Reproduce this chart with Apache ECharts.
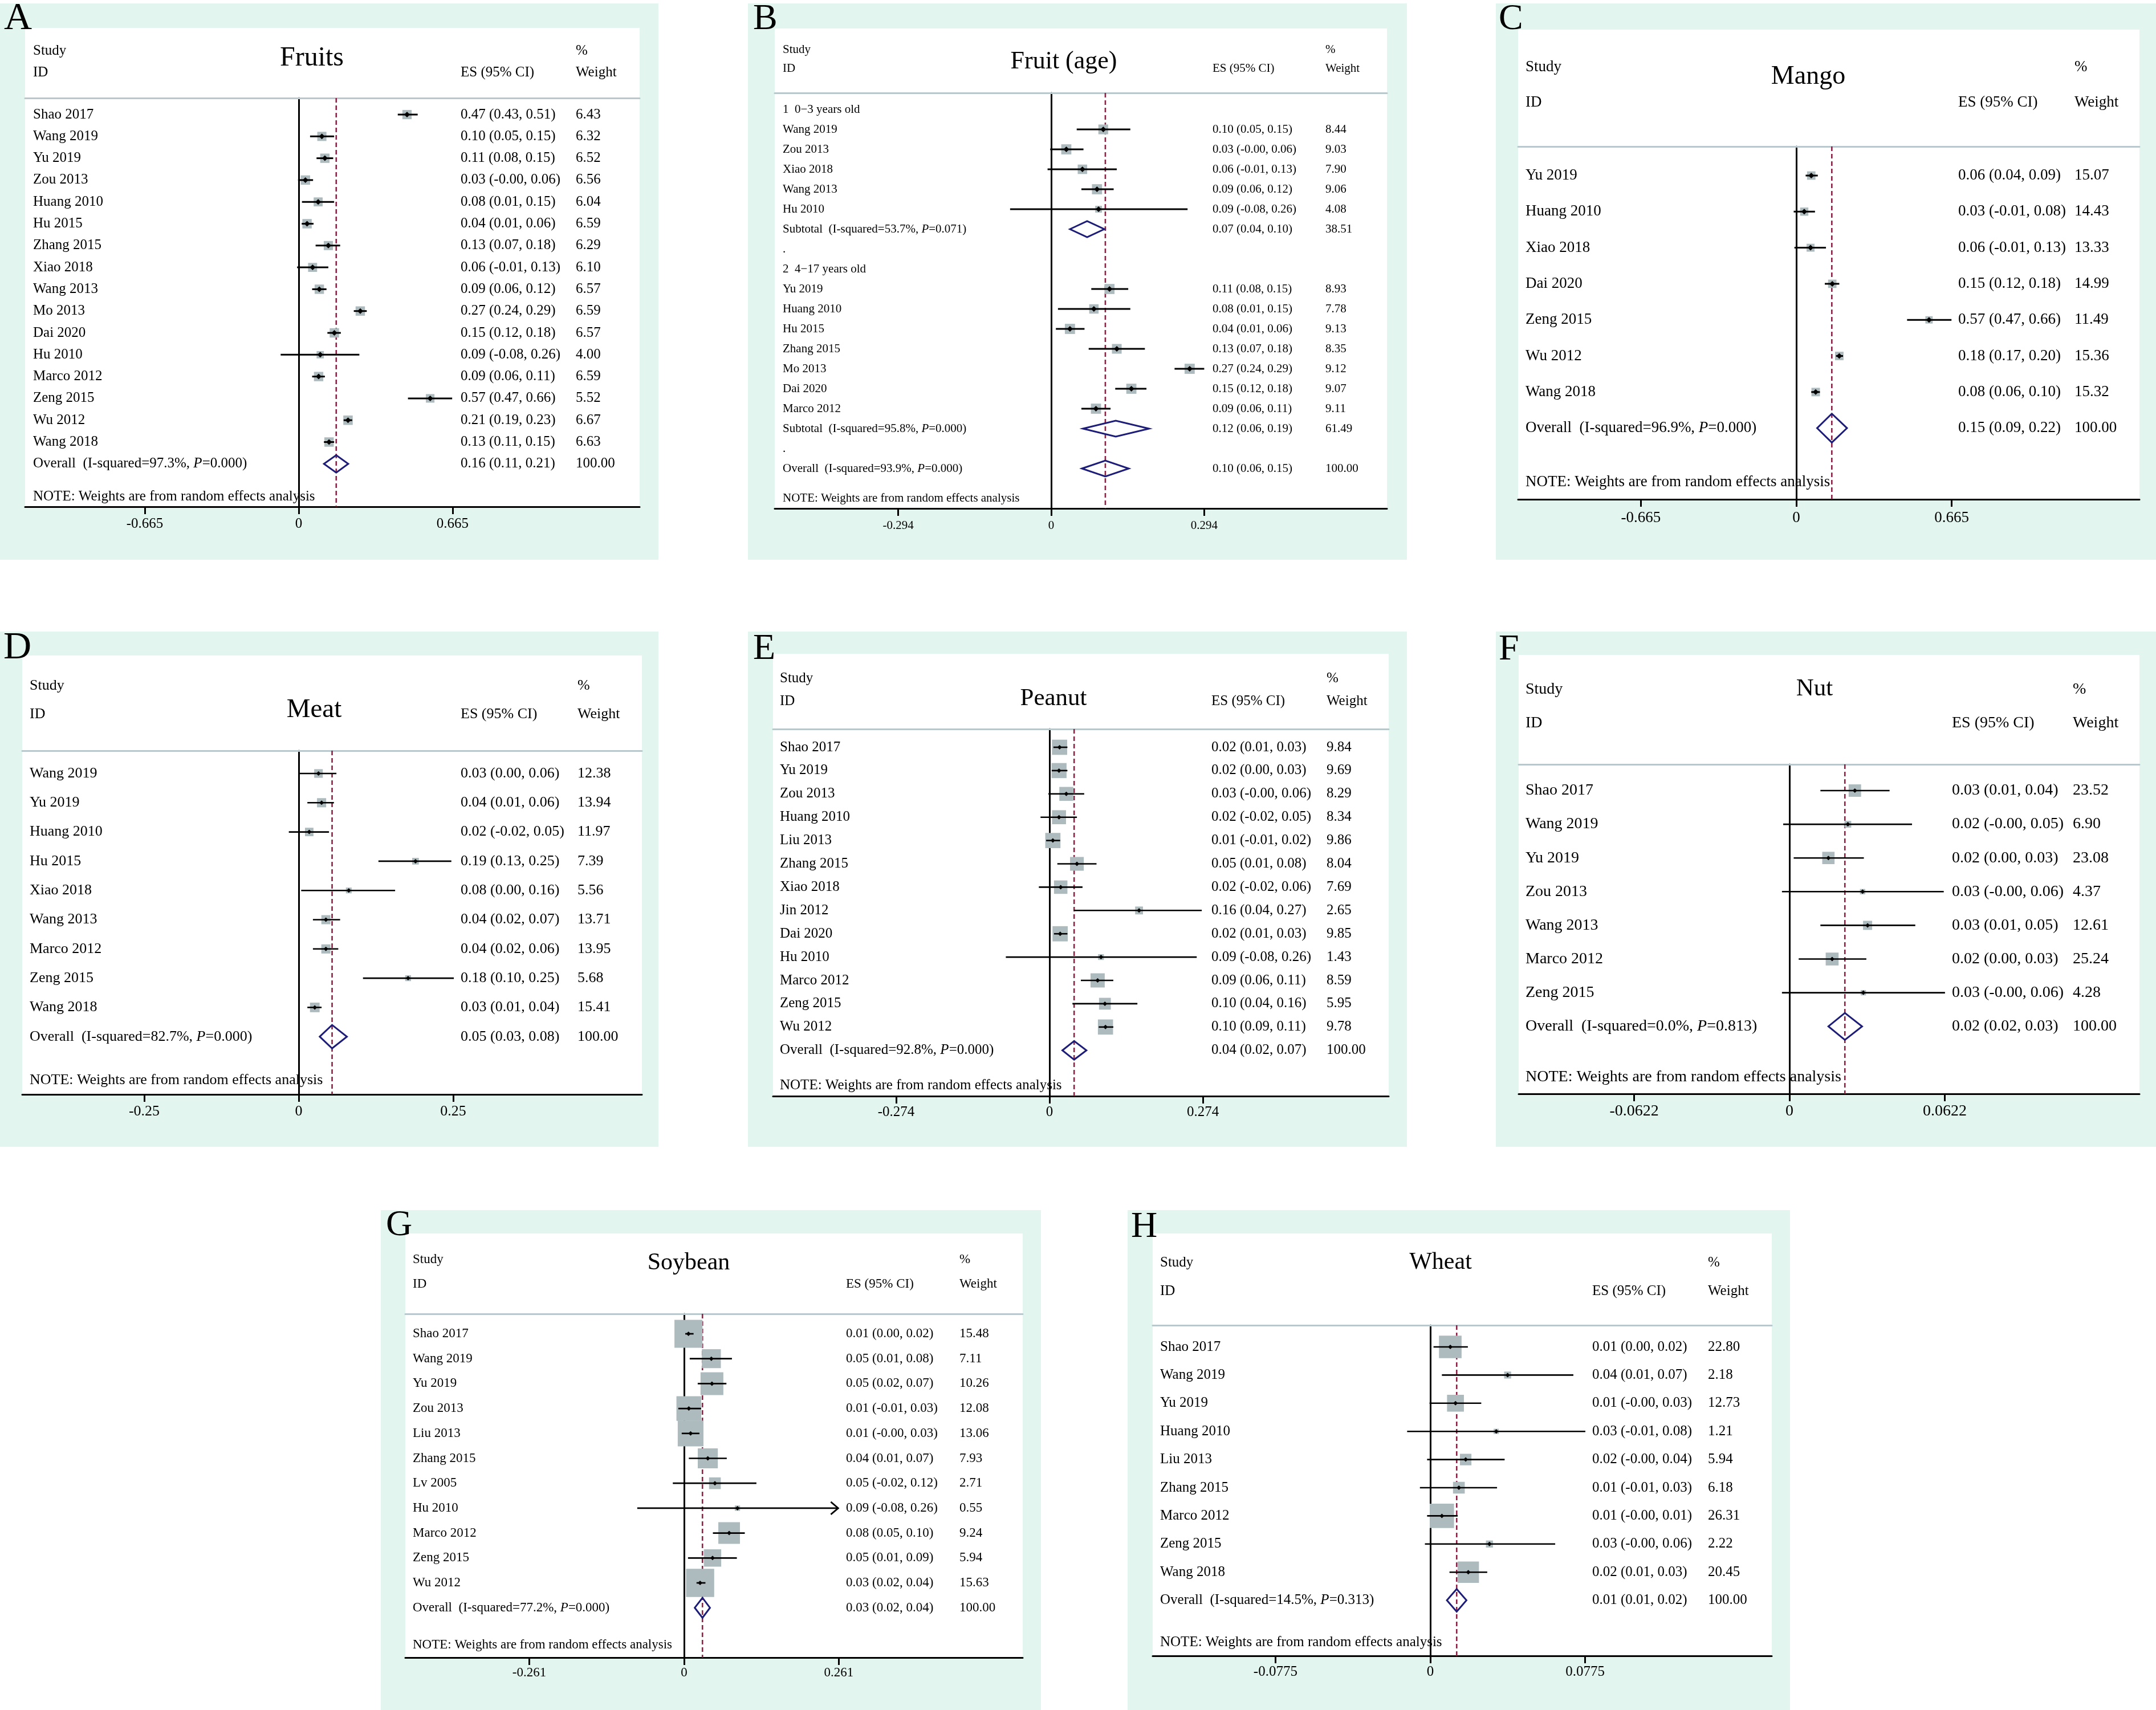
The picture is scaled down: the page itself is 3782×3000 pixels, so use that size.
<!DOCTYPE html>
<html>
<head>
<meta charset="utf-8">
<title>Forest plots</title>
<script src="https://cdn.jsdelivr.net/npm/echarts@6.0.0/dist/echarts.min.js"></script>
<style>
  html, body { margin: 0; padding: 0; background: #fff; }
  #main { width: 3782px; height: 3000px; }
</style>
</head>
<body>
<div id="main"></div>
<script>
// ---- data: A Fruits ----
const fruitStudies = ['Shao 2017', 'Wang 2019', 'Yu 2019', 'Zou 2013', 'Huang 2010', 'Hu 2015', 'Zhang 2015', 'Xiao 2018', 'Wang 2013', 'Mo 2013', 'Dai 2020', 'Hu 2010', 'Marco 2012', 'Zeng 2015', 'Wu 2012', 'Wang 2018'];
const fruitES = [0.468, 0.100, 0.113, 0.029, 0.084, 0.036, 0.128, 0.060, 0.089, 0.266, 0.154, 0.093, 0.086, 0.568, 0.213, 0.131];
const fruitLo = [0.428, 0.049, 0.077, -0.003, 0.014, 0.013, 0.073, -0.007, 0.058, 0.238, 0.124, -0.078, 0.058, 0.472, 0.194, 0.109];
const fruitHi = [0.514, 0.153, 0.149, 0.062, 0.153, 0.064, 0.179, 0.128, 0.120, 0.294, 0.182, 0.262, 0.113, 0.663, 0.231, 0.153];
const fruitWeight = [6.43, 6.32, 6.52, 6.56, 6.04, 6.59, 6.29, 6.10, 6.57, 6.59, 6.57, 4.00, 6.59, 5.52, 6.67, 6.63];
const fruitOverall = [0.162, 0.109, 0.214];
const fruitHet = ['97.3%', '0.000'];

// ---- data: B Fruit (age), two subgroups ----
const ageGroups = ['1  0\u22123 years old', '2  4\u221217 years old'];
const ageStudies = [['Wang 2019', 'Zou 2013', 'Xiao 2018', 'Wang 2013', 'Hu 2010'], ['Yu 2019', 'Huang 2010', 'Hu 2015', 'Zhang 2015', 'Mo 2013', 'Dai 2020', 'Marco 2012']];
const ageES = [[0.100, 0.029, 0.060, 0.088, 0.091], [0.112, 0.082, 0.036, 0.126, 0.266, 0.154, 0.086]];
const ageLo = [[0.049, -0.002, -0.007, 0.058, -0.079], [0.077, 0.013, 0.009, 0.072, 0.237, 0.123, 0.058]];
const ageHi = [[0.152, 0.062, 0.126, 0.120, 0.262], [0.148, 0.152, 0.064, 0.180, 0.294, 0.183, 0.114]];
const ageWeight = [[8.44, 9.03, 7.90, 9.06, 4.08], [8.93, 7.78, 9.13, 8.35, 9.12, 9.07, 9.11]];
const ageSubtotal = [[0.069, 0.036, 0.102], [0.124, 0.061, 0.188]];
const ageSubWeight = [38.51, 61.49];
const ageSubHet = [['53.7%', '0.071'], ['95.8%', '0.000']];
const ageOverall = [0.104, 0.059, 0.149];
const ageHet = ['93.9%', '0.000'];

// ---- data: C Mango ----
const mangoStudies = ['Yu 2019', 'Huang 2010', 'Xiao 2018', 'Dai 2020', 'Zeng 2015', 'Wu 2012', 'Wang 2018'];
const mangoES = [0.064, 0.034, 0.061, 0.154, 0.568, 0.184, 0.083];
const mangoLo = [0.040, -0.011, -0.008, 0.122, 0.474, 0.170, 0.064];
const mangoHi = [0.092, 0.080, 0.127, 0.184, 0.664, 0.200, 0.101];
const mangoWeight = [15.07, 14.43, 13.33, 14.99, 11.49, 15.36, 15.32];
const mangoOverall = [0.152, 0.089, 0.217];
const mangoHet = ['96.9%', '0.000'];

// ---- data: D Meat ----
const meatStudies = ['Wang 2019', 'Yu 2019', 'Huang 2010', 'Hu 2015', 'Xiao 2018', 'Wang 2013', 'Marco 2012', 'Zeng 2015', 'Wang 2018'];
const meatES = [0.032, 0.037, 0.017, 0.189, 0.081, 0.044, 0.044, 0.177, 0.026];
const meatLo = [0.001, 0.014, -0.016, 0.129, 0.004, 0.023, 0.023, 0.104, 0.014];
const meatHi = [0.061, 0.057, 0.049, 0.247, 0.156, 0.067, 0.064, 0.251, 0.037];
const meatWeight = [12.38, 13.94, 11.97, 7.39, 5.56, 13.71, 13.95, 5.68, 15.41];
const meatOverall = [0.054, 0.034, 0.078];
const meatHet = ['82.7%', '0.000'];

// ---- data: E Peanut ----
const peanutStudies = ['Shao 2017', 'Yu 2019', 'Zou 2013', 'Huang 2010', 'Liu 2013', 'Zhang 2015', 'Xiao 2018', 'Jin 2012', 'Dai 2020', 'Hu 2010', 'Marco 2012', 'Zeng 2015', 'Wu 2012'];
const peanutES = [0.018, 0.017, 0.030, 0.017, 0.006, 0.049, 0.020, 0.160, 0.019, 0.092, 0.086, 0.099, 0.100];
const peanutLo = [0.007, 0.004, -0.002, -0.016, -0.006, 0.014, -0.019, 0.044, 0.008, -0.078, 0.056, 0.041, 0.088];
const peanutHi = [0.032, 0.032, 0.062, 0.049, 0.019, 0.084, 0.059, 0.272, 0.032, 0.263, 0.114, 0.157, 0.114];
const peanutWeight = [9.84, 9.69, 8.29, 8.34, 9.86, 8.04, 7.69, 2.65, 9.85, 1.43, 8.59, 5.95, 9.78];
const peanutOverall = [0.044, 0.023, 0.066];
const peanutHet = ['92.8%', '0.000'];

// ---- data: F Nut ----
const nutStudies = ['Shao 2017', 'Wang 2019', 'Yu 2019', 'Zou 2013', 'Wang 2013', 'Marco 2012', 'Zeng 2015'];
const nutES = [0.0262, 0.0234, 0.0156, 0.0293, 0.0313, 0.0171, 0.0296];
const nutLo = [0.0124, -0.0025, 0.0017, -0.0030, 0.0124, 0.0037, -0.0030];
const nutHi = [0.0401, 0.0491, 0.0298, 0.0618, 0.0504, 0.0308, 0.0623];
const nutWeight = [23.52, 6.90, 23.08, 4.37, 12.61, 25.24, 4.28];
const nutOverall = [0.0222, 0.0156, 0.0291];
const nutHet = ['0.0%', '0.813'];

// ---- data: G Soybean ----
const soyStudies = ['Shao 2017', 'Wang 2019', 'Yu 2019', 'Zou 2013', 'Liu 2013', 'Zhang 2015', 'Lv 2005', 'Hu 2010', 'Marco 2012', 'Zeng 2015', 'Wu 2012'];
const soyES = [0.0074, 0.046, 0.047, 0.008, 0.011, 0.040, 0.052, 0.090, 0.076, 0.048, 0.027];
const soyLo = [0.002, 0.0095, 0.023, -0.0097, -0.004, 0.008, -0.019, -0.079, 0.0486, 0.0066, 0.021];
const soyHi = [0.016, 0.0807, 0.0714, 0.0287, 0.0259, 0.072, 0.122, 0.260, 0.1024, 0.089, 0.036];
const soyWeight = [15.48, 7.11, 10.26, 12.08, 13.06, 7.93, 2.71, 0.55, 9.24, 5.94, 15.63];
const soyOverall = [0.031, 0.018, 0.0437];
const soyHet = ['77.2%', '0.000'];
const soyClipped = ['Hu 2010']; // CI runs past the axis, drawn with an arrow

// ---- data: H Wheat ----
const wheatStudies = ['Shao 2017', 'Wang 2019', 'Yu 2019', 'Huang 2010', 'Liu 2013', 'Zhang 2015', 'Marco 2012', 'Zeng 2015', 'Wang 2018'];
const wheatES = [0.0100, 0.0387, 0.0126, 0.0330, 0.0177, 0.0143, 0.0058, 0.0296, 0.0190];
const wheatLo = [0.0016, 0.0058, -0.0004, -0.0116, -0.0016, -0.0052, -0.0016, -0.0027, 0.0096];
const wheatHi = [0.0188, 0.0716, 0.0255, 0.0776, 0.0372, 0.0334, 0.0137, 0.0625, 0.0285];
const wheatWeight = [22.80, 2.18, 12.73, 1.21, 5.94, 6.18, 26.31, 2.22, 20.45];
const wheatOverall = [0.0132, 0.0083, 0.0181];
const wheatHet = ['14.5%', '0.313'];

const NOTE = 'NOTE: Weights are from random effects analysis';
const SERIF = '"Liberation Serif", "Times New Roman", serif';
const GREEN = '#e3f5ef';
const BOX = '#adbbbf';
const HEAD_LINE = '#b8c8cc';
const NAVY = '#1d1d78';
const RED = '#8b2346';

// row kinds: 0 study, 1 subtotal, 2 overall, 3 note, 4 plain label
const study = (row, label, es, lo, hi, w, clipped) => ({ row, label, es, lo, hi, w, kind: 0, clipped: clipped ? 1 : 0 });
const pooled = (row, label, v, w, het, kind) => ({ row, label, es: v[0], lo: v[1], hi: v[2], w, het, kind });

function simpleRows(studies, es, lo, hi, weight, overall, het, clipped) {
  const rows = studies.map((s, i) => study(i, s, es[i], lo[i], hi[i], weight[i], (clipped || []).includes(s)));
  const n = studies.length;
  rows.push(pooled(n, 'Overall', overall, 100, het, 2));
  rows.push({ row: n + 1.5, label: NOTE, kind: 3 });
  return rows;
}

function ageRows() {
  const rows = [];
  let r = 0;
  ageGroups.forEach((g, k) => {
    rows.push({ row: r++, label: g, kind: 4 });
    ageStudies[k].forEach((s, i) => rows.push(study(r++, s, ageES[k][i], ageLo[k][i], ageHi[k][i], ageWeight[k][i])));
    rows.push(pooled(r++, 'Subtotal', ageSubtotal[k], ageSubWeight[k], ageSubHet[k], 1));
    rows.push({ row: r++, label: '.', kind: 4 });
  });
  rows.push(pooled(r, 'Overall', ageOverall, 100, ageHet, 2));
  rows.push({ row: r + 1.5, label: NOTE, kind: 3 });
  return rows;
}

// panel layout (pixel positions of the frames, header texts and scales)
const panels = [
  { letter: 'A', title: 'Fruits', rows: simpleRows(fruitStudies, fruitES, fruitLo, fruitHi, fruitWeight, fruitOverall, fruitHet),
    green: [0, 6, 1155, 982], white: [44, 49, 1122, 889], header: 172, row0: 201, step: 38.3,
    zeroX: 524, ppu: 406, tick: 0.665, font: 25, labelOff: 30, letterPos: [7, 33, 68], titlePos: [547, 102, 48],
    studyX: 58, esX: 808, wX: 1010, headY: [89, 127], boxK: 6.4, lineW: 3, dot: 5 },
  { letter: 'B', title: 'Fruit (age)', rows: ageRows(),
    green: [1312, 6, 2468, 982], white: [1359, 50, 2433, 892], header: 163, row0: 192, step: 35.0,
    zeroX: 1844, ppu: 913, tick: 0.294, font: 21, labelOff: 30, letterPos: [1321, 34, 64], titlePos: [1866, 108, 44],
    studyX: 1373, esX: 2127, wX: 2325, headY: [87, 120], boxK: 5.9, lineW: 3, dot: 5 },
  { letter: 'C', title: 'Mango', rows: simpleRows(mangoStudies, mangoES, mangoLo, mangoHi, mangoWeight, mangoOverall, mangoHet),
    green: [2624, 6, 3782, 982], white: [2663, 52, 3753, 876], header: 257, row0: 308, step: 63.3,
    zeroX: 3151, ppu: 410, tick: 0.665, font: 27, labelOff: 33, letterPos: [2629, 34, 64], titlePos: [3172, 135, 46],
    studyX: 2676, esX: 3435, wX: 3639, headY: [118, 180], boxK: 3.8, lineW: 3, dot: 5 },
  { letter: 'D', title: 'Meat', rows: simpleRows(meatStudies, meatES, meatLo, meatHi, meatWeight, meatOverall, meatHet),
    green: [0, 1108, 1155, 2012], white: [39, 1150, 1126, 1920], header: 1317, row0: 1357, step: 51.3,
    zeroX: 524, ppu: 1084, tick: 0.25, font: 26, labelOff: 30, letterPos: [6, 1137, 68], titlePos: [551, 1246, 47],
    studyX: 52, esX: 808, wX: 1013, headY: [1203, 1253], boxK: 4.3, lineW: 2.6, dot: 4 },
  { letter: 'E', title: 'Peanut', rows: simpleRows(peanutStudies, peanutES, peanutLo, peanutHi, peanutWeight, peanutOverall, peanutHet),
    green: [1312, 1108, 2468, 2012], white: [1356, 1147, 2436, 1923], header: 1279, row0: 1311, step: 40.9,
    zeroX: 1841, ppu: 982, tick: 0.274, font: 25, labelOff: 28, letterPos: [1321, 1139, 64], titlePos: [1848, 1226, 43],
    studyX: 1368, esX: 2125, wX: 2327, headY: [1190, 1230], boxK: 8.5, lineW: 2.6, dot: 4 },
  { letter: 'F', title: 'Nut', rows: simpleRows(nutStudies, nutES, nutLo, nutHi, nutWeight, nutOverall, nutHet),
    green: [2624, 1108, 3782, 2012], white: [2664, 1149, 3753, 1919], header: 1341, row0: 1387, step: 59.1,
    zeroX: 3139, ppu: 4380, tick: 0.0622, font: 28, labelOff: 31, letterPos: [2629, 1140, 64], titlePos: [3183, 1209, 43],
    studyX: 2676, esX: 3424, wX: 3636, headY: [1210, 1269], boxK: 4.5, lineW: 2.6, dot: 4 },
  { letter: 'G', title: 'Soybean', rows: simpleRows(soyStudies, soyES, soyLo, soyHi, soyWeight, soyOverall, soyHet, soyClipped),
    green: [668, 2123, 1826, 3000], white: [711, 2164, 1794, 2908], header: 2305, row0: 2340, step: 43.7,
    zeroX: 1200, ppu: 1040, tick: 0.261, font: 23, labelOff: 27, letterPos: [677, 2150, 64], titlePos: [1208, 2216, 42],
    studyX: 724, esX: 1484, wX: 1683, headY: [2210, 2253], boxK: 12.5, lineW: 2.7, dot: 4 },
  { letter: 'H', title: 'Wheat', rows: simpleRows(wheatStudies, wheatES, wheatLo, wheatHi, wheatWeight, wheatOverall, wheatHet),
    green: [1978, 2123, 3140, 3000], white: [2022, 2164, 3108, 2905], header: 2325, row0: 2363, step: 49.4,
    zeroX: 2509, ppu: 3505, tick: 0.0775, font: 25, labelOff: 28, letterPos: [1984, 2153, 64], titlePos: [2527, 2215, 42],
    studyX: 2035, esX: 2793, wX: 2996, headY: [2215, 2265], boxK: 8.3, lineW: 2.6, dot: 4 }
];

const fmt = v => (v < 0 ? '-' : '') + Math.abs(v).toFixed(2);
const ciText = r => `${fmt(r.es)} (${fmt(r.lo)}, ${fmt(r.hi)})`;
const labelText = r => r.het ? `${r.label}  (I-squared=${r.het[0]}, {i|P}=${r.het[1]})` : r.label;

// boxes, CI lines, pooled diamonds and the dashed line at the overall estimate
function renderMarks(params, api, p) {
  const row = api.value(0), es = api.value(1), lo = api.value(2), hi = api.value(3), w = api.value(4), kind = api.value(5);
  const c = api.coord([es, row]), l = api.coord([lo, row]), h = api.coord([hi, row]);
  const cs = params.coordSys;
  if (kind >= 1) {
    const t = api.coord([es, row - 0.4])[1], b = api.coord([es, row + 0.4])[1];
    const children = [{
      type: 'polygon', z2: 5,
      shape: { points: [[l[0], c[1]], [c[0], t], [h[0], c[1]], [c[0], b]] },
      style: { fill: 'none', stroke: NAVY, lineWidth: 3 }
    }];
    if (kind === 2) {
      children.push({
        type: 'line', z2: 1,
        shape: { x1: c[0], y1: cs.y, x2: c[0], y2: cs.y + cs.height },
        style: { stroke: RED, lineWidth: 2.6, lineDash: [8, 5] }
      });
    }
    return { type: 'group', children };
  }
  const side = p.boxK * Math.sqrt(w), d = p.dot;
  const children = [
    { type: 'rect', z2: 2, shape: { x: c[0] - side / 2, y: c[1] - side / 2, width: side, height: side }, style: { fill: BOX } },
    { type: 'line', z2: 3, shape: { x1: l[0], y1: c[1], x2: h[0], y2: c[1] }, style: { stroke: '#000', lineWidth: p.lineW } },
    { type: 'polygon', z2: 4, shape: { points: [[c[0] - d, c[1]], [c[0], c[1] - d], [c[0] + d, c[1]], [c[0], c[1] + d]] }, style: { fill: '#000' } }
  ];
  if (api.value(6)) {
    children.push({
      type: 'polyline', z2: 3,
      shape: { points: [[h[0] - 13, c[1] - 11], [h[0], c[1]], [h[0] - 13, c[1] + 11]] },
      style: { stroke: '#000', lineWidth: p.lineW, fill: 'none' }
    });
  }
  return { type: 'group', children };
}

// study names, ES (95% CI) and weight columns
function renderText(params, api, p) {
  const r = p.rows[api.value(2)];
  const y = api.coord([0, api.value(1)])[1];
  const base = { fill: '#000', fontSize: p.font, fontFamily: SERIF, align: 'left', verticalAlign: 'middle' };
  const children = [{
    type: 'text', x: p.studyX, y, z2: 6,
    style: Object.assign({ text: labelText(r), rich: { i: { fontStyle: 'italic', fontSize: p.font, fontFamily: SERIF, fill: '#000' } } }, base)
  }];
  if (r.kind <= 2) {
    children.push({ type: 'text', x: p.esX, y, z2: 6, style: Object.assign({ text: ciText(r) }, base) });
    children.push({ type: 'text', x: p.wX, y, z2: 6, style: Object.assign({ text: r.w.toFixed(2) }, base) });
  }
  return { type: 'group', children };
}

const grids = [], xAxes = [], yAxes = [], series = [], graphics = [];

panels.forEach((p, i) => {
  const [wx0, wy0, wx1, wy1] = p.white;
  const [gx0, gy0, gx1, gy1] = p.green;
  const xMin = (wx0 - p.zeroX) / p.ppu, xMax = (wx1 - p.zeroX) / p.ppu;
  const ticks = [-p.tick, 0, p.tick];

  grids.push({ left: wx0, top: p.header, width: wx1 - wx0, height: wy1 - p.header });
  xAxes.push({
    type: 'value', gridIndex: i, position: 'bottom', min: xMin, max: xMax,
    axisLine: { onZero: false, lineStyle: { color: '#000', width: 3 } },
    axisTick: { show: true, customValues: ticks, length: 13, lineStyle: { color: '#000', width: 3 } },
    axisLabel: { customValues: ticks, formatter: v => String(v), color: '#000', fontFamily: SERIF, fontSize: p.font, margin: p.labelOff - p.font * 0.5 },
    splitLine: { show: false }
  });
  // thin line under the column headers
  xAxes.push({
    type: 'value', gridIndex: i, position: 'top', min: xMin, max: xMax,
    axisLine: { onZero: false, lineStyle: { color: HEAD_LINE, width: 3 } },
    axisTick: { show: false }, axisLabel: { show: false }, splitLine: { show: false }
  });
  // null line at 0
  yAxes.push({
    type: 'value', gridIndex: i, inverse: true,
    min: (p.header - p.row0) / p.step, max: (wy1 - p.row0) / p.step,
    axisLine: { show: true, onZero: true, lineStyle: { color: '#000', width: 3 } },
    axisTick: { show: false }, axisLabel: { show: false }, splitLine: { show: false }
  });

  series.push({
    type: 'custom', xAxisIndex: 2 * i, yAxisIndex: i, silent: true, animation: false,
    encode: { x: [1, 2, 3], y: 0 },
    data: p.rows.filter(r => r.kind <= 2).map(r => [r.row, r.es, r.lo, r.hi, r.w, r.kind, r.clipped || 0]),
    renderItem: (params, api) => renderMarks(params, api, p)
  });
  series.push({
    type: 'custom', xAxisIndex: 2 * i, yAxisIndex: i, silent: true, animation: false,
    encode: { x: 0, y: 1 },
    data: p.rows.map((r, k) => [0, r.row, k]),
    renderItem: (params, api) => renderText(params, api, p)
  });

  // frames and headers
  graphics.push({ type: 'rect', z: -20, shape: { x: gx0, y: gy0, width: gx1 - gx0, height: gy1 - gy0 }, style: { fill: GREEN } });
  graphics.push({ type: 'rect', z: -19, shape: { x: wx0, y: wy0, width: wx1 - wx0, height: wy1 - wy0 }, style: { fill: '#fff' } });
  const txt = (text, x, y, size, align) => ({
    type: 'text', z: 10, x, y,
    style: { text, fill: '#000', fontSize: size, fontFamily: SERIF, align: align || 'left', verticalAlign: 'middle' }
  });
  graphics.push(txt(p.letter, p.letterPos[0], p.letterPos[1], p.letterPos[2]));
  graphics.push(txt(p.title, p.titlePos[0], p.titlePos[1], p.titlePos[2], 'center'));
  graphics.push(txt('Study', p.studyX, p.headY[0], p.font));
  graphics.push(txt('ID', p.studyX, p.headY[1], p.font));
  graphics.push(txt('ES (95% CI)', p.esX, p.headY[1], p.font));
  graphics.push(txt('%', p.wX, p.headY[0], p.font));
  graphics.push(txt('Weight', p.wX, p.headY[1], p.font));
});

const chart = echarts.init(document.getElementById('main'), null, { renderer: 'canvas' });
chart.setOption({
  backgroundColor: '#fff',
  animation: false,
  grid: grids,
  xAxis: xAxes,
  yAxis: yAxes,
  graphic: { elements: graphics },
  series
});
</script>
</body>
</html>
